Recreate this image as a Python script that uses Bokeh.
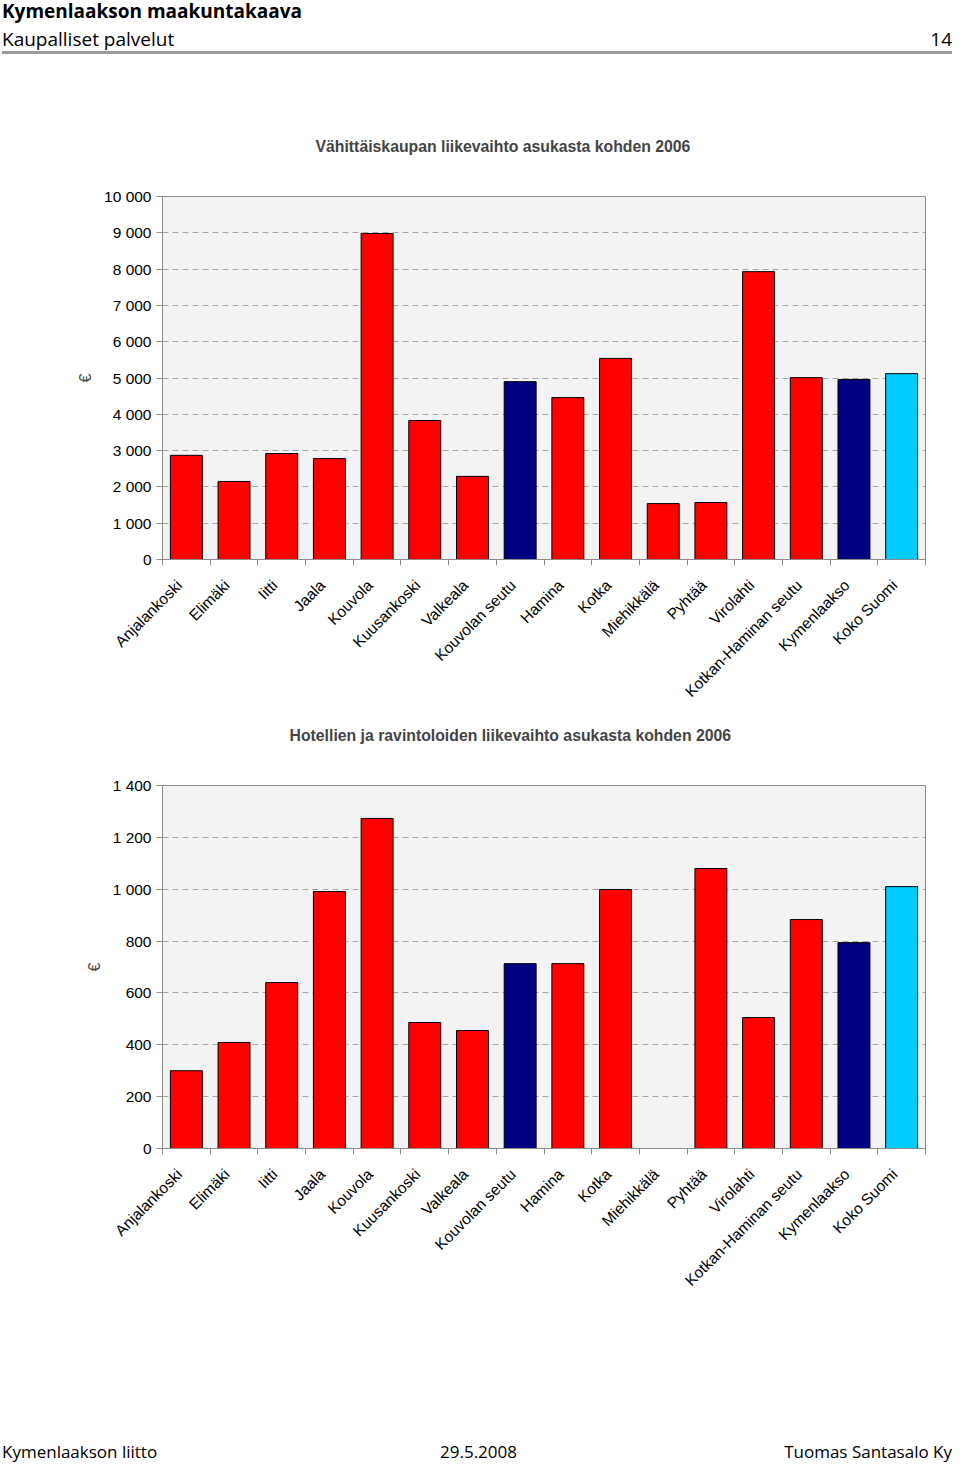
import math
from bokeh.plotting import figure
from bokeh.layouts import column
from bokeh.models import Range1d, FixedTicker, Title, Div
from bokeh.embed import file_html
from bokeh.resources import INLINE

# ---------------- data ----------------
categories = ["Anjalankoski", "Elimäki", "Iitti", "Jaala", "Kouvola", "Kuusankoski",
              "Valkeala", "Kouvolan seutu", "Hamina", "Kotka", "Miehikkälä", "Pyhtää",
              "Virolahti", "Kotkan-Haminan seutu", "Kymenlaakso", "Koko Suomi"]
bar_colors = ["#FF0000"] * 7 + ["#000080"] + ["#FF0000"] * 5 + ["#FF0000", "#000080", "#00CCFF"]

retail_values = [2870, 2150, 2920, 2780, 8980, 3830, 2290, 4900, 4460, 5540,
                 1540, 1570, 7930, 5010, 4960, 5120]
hotel_values = [300, 409, 640, 991, 1273, 486, 455, 713, 713, 999,
                float("nan"), 1080, 505, 883, 794, 1010]

retail_ticks = [0, 1000, 2000, 3000, 4000, 5000, 6000, 7000, 8000, 9000, 10000]
retail_tick_labels = ["0", "1 000", "2 000", "3 000", "4 000", "5 000", "6 000",
                      "7 000", "8 000", "9 000", "10 000"]
hotel_ticks = [0, 200, 400, 600, 800, 1000, 1200, 1400]
hotel_tick_labels = ["0", "200", "400", "600", "800", "1 000", "1 200", "1 400"]

title1 = "Vähittäiskaupan liikevaihto asukasta kohden 2006"
title2 = "Hotellien ja ravintoloiden liikevaihto asukasta kohden 2006"
header_title = "Kymenlaakson maakuntakaava"
header_sub = "Kaupalliset palvelut"
page_no = "14"
footer_left = "Kymenlaakson liitto"
footer_mid = "29.5.2008"
footer_right = "Tuomas Santasalo Ky"

FONT = "Liberation Sans"
HFONT = "'Open Sans', sans-serif"
W = 952
LABEL_SHIFT = 0.15  # labels sit slightly left of the bar centre, as in the original


def bar_chart(vals, ticks, tick_labels, title, height, top, right, title_offset):
    n = len(categories)
    xs = list(range(1, n + 1))
    p = figure(width=W, height=height, output_backend="svg", toolbar_location=None,
               x_range=Range1d(0.5, n + 0.5), y_range=Range1d(ticks[0], ticks[-1]),
               min_border_left=162, min_border_right=right,
               min_border_top=top, min_border_bottom=height - top - 363)
    p.background_fill_color = "#F3F3F3"
    p.border_fill_color = "white"
    p.outline_line_color = "#8C8C8C"
    p.outline_line_width = 1

    p.vbar(x=xs, top=vals, width=0.67, fill_color=bar_colors,
           line_color="black", line_width=1)

    ya = p.yaxis[0]
    ya.ticker = FixedTicker(ticks=ticks, minor_ticks=[])
    ya.major_label_overrides = {t: l for t, l in zip(ticks, tick_labels)}
    ya.major_label_text_font = FONT
    ya.major_label_text_font_size = "15.5px"
    ya.major_label_text_color = "black"
    ya.major_tick_out = 6
    ya.major_tick_in = 0
    ya.major_tick_line_color = "#8C8C8C"
    ya.axis_line_color = "#8C8C8C"
    ya.axis_label = "€"
    ya.axis_label_text_font = FONT
    ya.axis_label_text_font_style = "normal"
    ya.axis_label_text_font_size = "16px"
    ya.axis_label_standoff = 7
    ya.major_label_standoff = 5

    xa = p.xaxis[0]
    label_pos = [x - LABEL_SHIFT for x in xs]
    xa.ticker = FixedTicker(ticks=label_pos, minor_ticks=[x + 0.5 for x in range(0, n + 1)])
    xa.major_label_overrides = {x: c for x, c in zip(label_pos, categories)}
    xa.major_label_orientation = math.pi / 4
    xa.major_label_text_font = FONT
    xa.major_label_text_font_size = "15.5px"
    xa.major_label_text_color = "black"
    xa.major_tick_out = 0
    xa.major_tick_in = 0
    xa.minor_tick_out = 6
    xa.minor_tick_in = 0
    xa.minor_tick_line_color = "#8C8C8C"
    xa.axis_line_color = "#8C8C8C"
    xa.major_label_standoff = 17

    p.xgrid.grid_line_color = None
    p.ygrid.ticker = FixedTicker(ticks=ticks[1:-1])
    p.ygrid.grid_line_color = "#A6A6A6"
    p.ygrid.grid_line_dash = "6 4"
    p.ygrid.grid_line_width = 1

    # spacer between frame and title (closest to frame), then the title itself
    p.add_layout(Title(text=" ", text_font_size="1px", standoff=39), "above")
    p.add_layout(Title(text=title, align="left", text_font=FONT, text_font_size="15.8px",
                       text_font_style="bold", offset=title_offset, standoff=0), "above")
    return p


def span(text, style):
    return f'<span style="position:absolute;white-space:nowrap;{style}">{text}</span>'


head_html = (
    f'<div style="position:relative;width:{W}px;height:60px;font-family:{HFONT};color:black;">'
    + span(header_title, "left:2px;top:-1px;font-size:19px;font-weight:bold;line-height:24px;")
    + span(header_sub, "left:2px;top:27px;font-size:19px;line-height:24px;")
    + span(page_no, "right:0px;top:27px;font-size:19px;line-height:24px;")
    + f'<div style="position:absolute;left:2px;top:51px;width:{W - 2}px;height:3px;background:#9A9A9A;"></div>'
    + '</div>'
)
head = Div(text=head_html, width=W, height=60, margin=0)

p1 = bar_chart(retail_values, retail_ticks, retail_tick_labels, title1,
               height=655, top=136, right=27, title_offset=153)
p2 = bar_chart(hotel_values, hotel_ticks, hotel_tick_labels, title2,
               height=605, top=70, right=21, title_offset=127)

foot_html = (
    f'<div style="position:relative;width:{W}px;height:144px;font-family:{HFONT};color:black;">'
    + span(footer_left, "left:2px;top:121px;font-size:17px;line-height:22px;")
    + span(footer_mid, "left:440px;top:121px;font-size:17px;line-height:22px;")
    + span(footer_right, "right:0px;top:121px;font-size:17px;line-height:22px;")
    + '</div>'
)
foot = Div(text=foot_html, width=W, height=144, margin=0)

layout = column(head, p1, p2, foot, spacing=0)
open("out.html", "w").write(file_html(layout, INLINE))
